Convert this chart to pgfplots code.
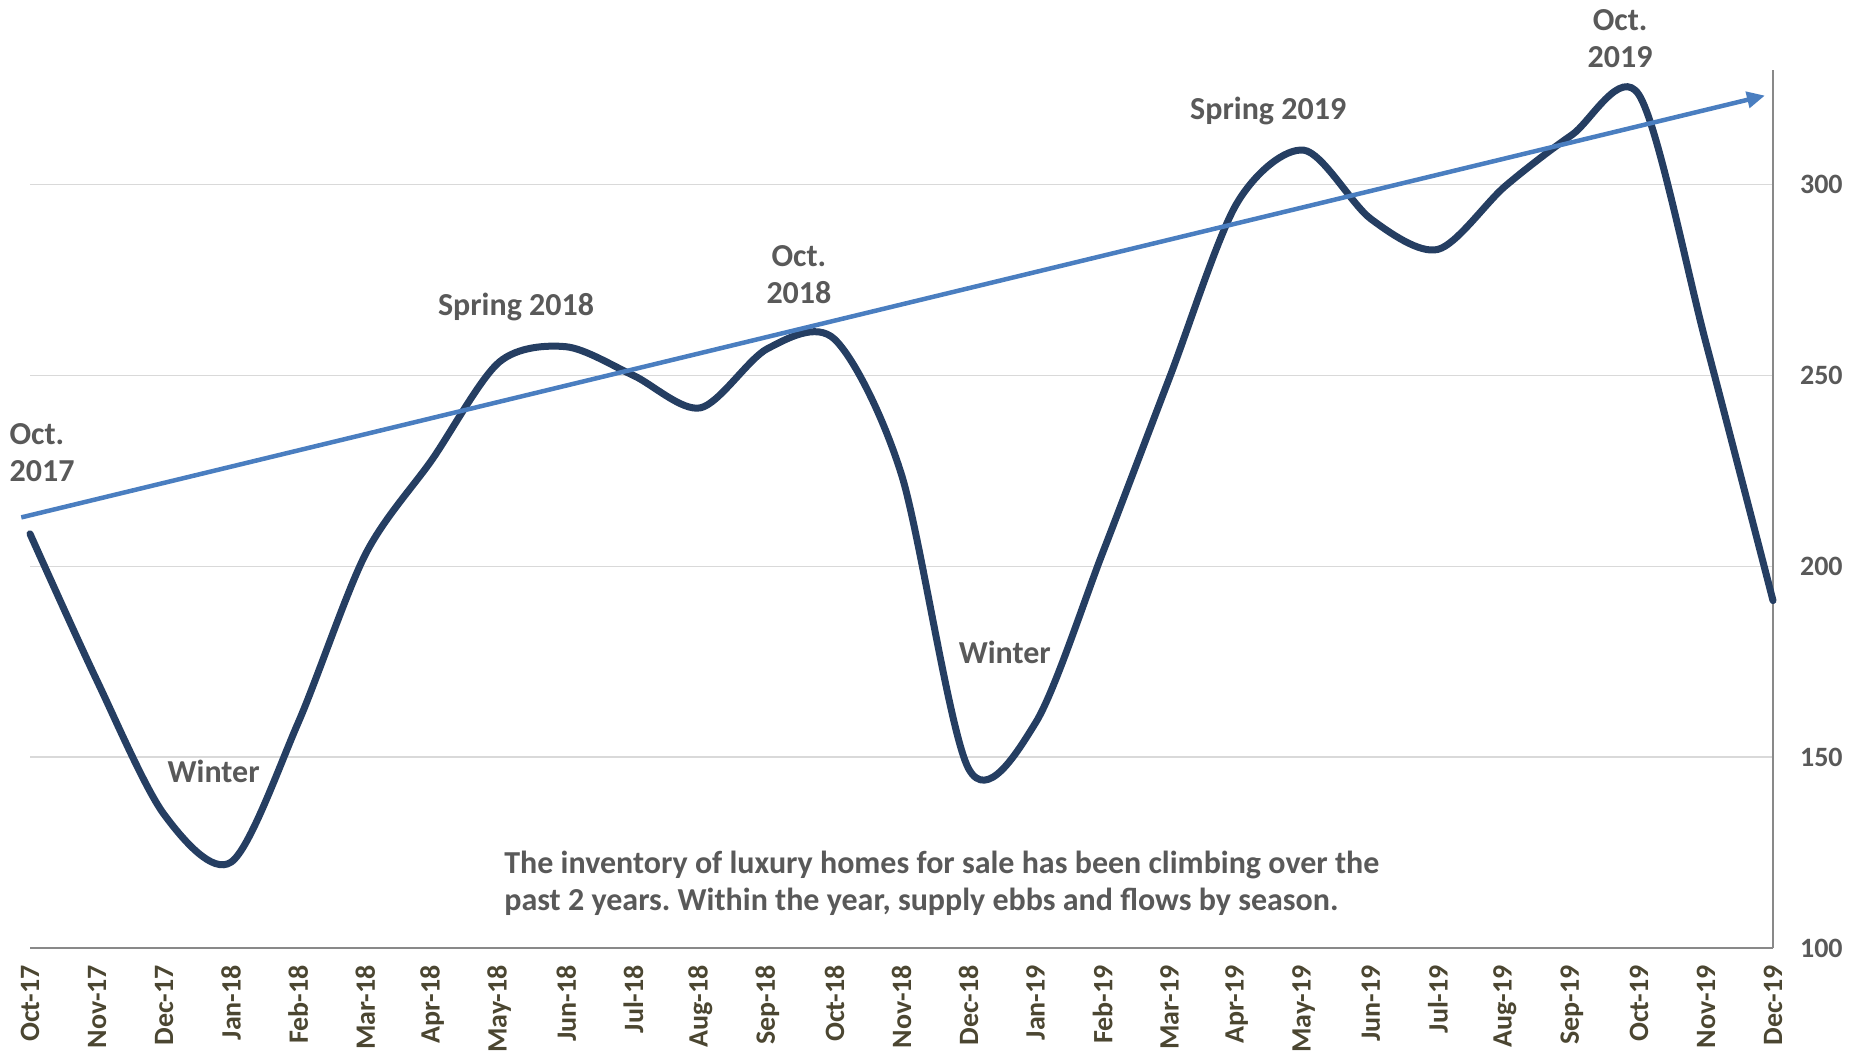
\documentclass[border=0pt]{standalone}
\usepackage{fontspec}
\setmainfont{Carlito}
\usepackage{pgfplots}
\pgfplotsset{compat=1.18}
\usetikzlibrary{arrows.meta}
\definecolor{navy}{HTML}{253E62}
\definecolor{trend}{HTML}{4A7EC0}
\definecolor{txt}{HTML}{595959}
\definecolor{xlab}{HTML}{4B4631}
\definecolor{gridc}{HTML}{D9D9D9}
\definecolor{axl}{HTML}{898989}
\frenchspacing
\begin{document}
\begin{tikzpicture}
\begin{axis}[
  at={(0,0)}, anchor=south west,
  scale only axis, width=871.5pt, height=439pt,
  xmin=0, xmax=26, ymin=100, ymax=330,
  axis x line*=bottom, axis y line*=right,
  xtick={0,...,26},
  xticklabels={Oct-17,Nov-17,Dec-17,Jan-18,Feb-18,Mar-18,Apr-18,May-18,Jun-18,Jul-18,Aug-18,Sep-18,Oct-18,Nov-18,Dec-18,Jan-19,Feb-19,Mar-19,Apr-19,May-19,Jun-19,Jul-19,Aug-19,Sep-19,Oct-19,Nov-19,Dec-19},
  ytick={100,150,200,250,300},
  major tick length=0pt,
  xticklabel style={rotate=90, anchor=east, font=\fontsize{14}{16}\selectfont\bfseries, text=xlab},
  xticklabel shift=5pt,
  yticklabel style={anchor=west, font=\fontsize{14}{16}\selectfont\bfseries, text=txt},
  yticklabel shift=10pt,
  /pgf/number format/assume math mode=true,
  ymajorgrids, grid style={gridc, line width=0.75pt},
  axis line style={axl, line width=0.75pt},
  clip=false,
]
\addplot[navy, line width=3.5pt, smooth, tension=0.5, line cap=round] coordinates {
(0,208.5) (1,170) (2,135) (3,122.5) (4,159) (5,203) (6,228) (7,253.5) (8,257.5)
(9,250) (10,241.5) (11,257) (12,259.5) (13,224) (14,147) (15,159) (16,203.5)
(17,249.5) (18,295) (19,309) (20,291) (21,283) (22,299.5) (23,313) (24,323.5)
(25,258.5) (26,191)};
\addplot[trend, line width=2.25pt, -{Triangle[length=9pt,width=8pt]}] coordinates {(-0.13,212.8) (25.88,323.3)};
\begin{scope}[every node/.style={font=\fontsize{16}{18.5}\selectfont\bfseries, text=txt}]
\node[anchor=west, align=left] at (axis cs:-0.41,229.7) {Oct.\\2017};
\node at (axis cs:2.74,146.3) {Winter};
\node at (axis cs:7.25,267.8) {Spring 2018};
\node[align=center] at (axis cs:11.47,276.5) {Oct.\\2018};
\node at (axis cs:14.54,177.4) {Winter};
\node at (axis cs:18.47,319.3) {Spring 2019};
\node[align=center] at (axis cs:23.72,338.2) {Oct.\\2019};
\node[anchor=west, align=left] at (axis cs:6.97,117) {The inventory of luxury homes for sale has been climbing over the\\past 2 years. Within the year, supply ebbs and flows by season.};
\end{scope}
\end{axis}
\pgfresetboundingbox
\path (-15pt,-57pt) rectangle (915.5pt,474pt);
\end{tikzpicture}
\end{document}
